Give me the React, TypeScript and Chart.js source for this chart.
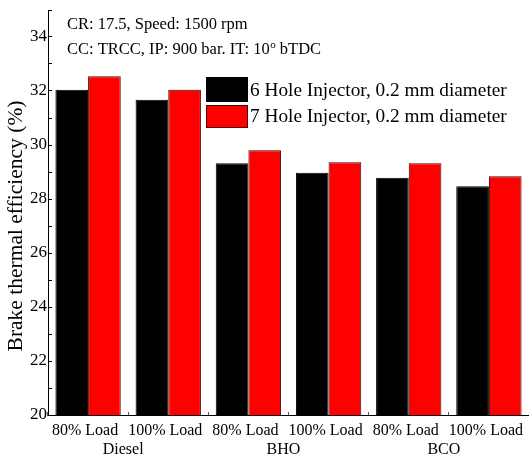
import React, { useEffect, useRef } from "react";
import { Chart, registerables } from "chart.js";

Chart.register(...registerables);

const loads = ["80% Load", "100% Load", "80% Load", "100% Load", "80% Load", "100% Load"];
const fuels = ["Diesel", "BHO", "BCO"];
const sixHole = [32.05, 31.68, 29.32, 28.97, 28.79, 28.47];
const sevenHole = [32.55, 32.05, 29.81, 29.36, 29.32, 28.84];
const seriesNames = ["6 Hole Injector, 0.2 mm diameter", "7 Hole Injector, 0.2 mm diameter"];
const yTitle = "Brake thermal efficiency (%)";
const noteLine1 = "CR: 17.5, Speed: 1500 rpm";
const noteLine2 = ["CC: TRCC, IP: 900 bar. IT: 10", "o", " bTDC"];

const FONT = "'Liberation Serif', 'Times New Roman', serif";

const decorPlugin = {
  id: "decor",
  afterDraw(chart: any) {
    const ctx = chart.ctx;
    ctx.save();
    ctx.fillStyle = "#000";
    // y axis title
    ctx.save();
    ctx.translate(16, 226);
    ctx.rotate(-Math.PI / 2);
    ctx.font = `21.5px ${FONT}`;
    ctx.textAlign = "center";
    ctx.textBaseline = "middle";
    ctx.fillText(yTitle, 0, 0);
    ctx.restore();

    // notes
    ctx.font = `16.5px ${FONT}`;
    ctx.textAlign = "left";
    ctx.textBaseline = "middle";
    ctx.fillText(noteLine1, 67, 25);
    let x = 67;
    ctx.fillText(noteLine2[0], x, 50);
    x += ctx.measureText(noteLine2[0]).width;
    ctx.font = `11px ${FONT}`;
    ctx.fillText(noteLine2[1], x + 0.5, 45);
    x += ctx.measureText(noteLine2[1]).width + 0.5;
    ctx.font = `16.5px ${FONT}`;
    ctx.fillText(noteLine2[2], x, 50);

    // legend
    const ds = chart.data.datasets;
    const boxes = [
      { y: 77, h: 25, ty: 91 },
      { y: 105, h: 23, ty: 117 },
    ];
    ctx.font = `19.3px ${FONT}`;
    ds.forEach((d: any, i: number) => {
      const b = boxes[i];
      ctx.fillStyle = d.backgroundColor;
      ctx.fillRect(206, b.y, 42, b.h);
      ctx.strokeStyle = d.borderColor;
      ctx.lineWidth = 1;
      ctx.strokeRect(206.5, b.y + 0.5, 41, b.h - 1);
      ctx.fillStyle = "#000";
      ctx.fillText(d.label, 250, b.ty);
    });
    ctx.restore();
  },
};

export default function App() {
  const ref = useRef<HTMLCanvasElement | null>(null);
  useEffect(() => {
    if (!ref.current) return;
    const chart = new Chart(ref.current, {
      type: "bar",
      data: {
        labels: loads,
        datasets: [
          {
            label: seriesNames[0],
            data: sixHole,
            backgroundColor: "#000000",
            borderColor: "#000000",
            borderWidth: 1,
            barPercentage: 1,
            categoryPercentage: 0.815,
          },
          {
            label: seriesNames[1],
            data: sevenHole,
            backgroundColor: "#ff0000",
            borderColor: "#4a0000",
            borderWidth: 1,
            barPercentage: 1,
            categoryPercentage: 0.815,
          },
        ],
      },
      options: {
        animation: false,
        responsive: true,
        maintainAspectRatio: false,
        layout: { padding: { top: 10, right: 0, left: 0, bottom: 0 } },
        plugins: {
          legend: { display: false },
          tooltip: { enabled: false },
        },
        scales: {
          y: {
            min: 20,
            max: 35,
            afterFit: (s: any) => {
              s.width = 48;
              s.paddingTop = 0;
              s.paddingBottom = 0;
            },
            ticks: {
              stepSize: 1,
              autoSkip: false,
              padding: 5,
              color: "#000",
              font: { family: FONT, size: 17 },
              callback: (v: any) => (Number(v) % 2 === 0 && Number(v) < 35 ? String(v) : ""),
            },
            grid: {
              drawOnChartArea: false,
              drawTicks: true,
              tickLength: -4,
              color: "#000",
            },
            border: { display: true, color: "#000", width: 1 },
          },
          x: {
            type: "category",
            position: "bottom",
            afterFit: (s: any) => {
              s.height = 20;
              s.paddingLeft = 0;
              s.paddingRight = 0;
            },
            ticks: {
              padding: 9,
              labelOffset: -3,
              color: "#000",
              autoSkip: false,
              maxRotation: 0,
              font: { family: FONT, size: 16 },
            },
            grid: {
              drawOnChartArea: false,
              drawTicks: true,
              tickLength: -3,
              color: "#555",
              offset: true,
            },
            border: { display: true, color: "#000", width: 1 },
          },
          x2: {
            type: "category",
            position: "bottom",
            labels: fuels,
            afterFit: (s: any) => {
              s.height = 26;
              s.paddingLeft = 0;
              s.paddingRight = 0;
            },
            ticks: {
              padding: 5,
              labelOffset: -5,
              color: "#000",
              autoSkip: false,
              maxRotation: 0,
              font: { family: FONT, size: 16 },
            },
            grid: { display: false, drawTicks: false },
            border: { display: false },
          },
        },
      } as any,
      plugins: [decorPlugin],
    });
    return () => chart.destroy();
  }, []);
  return (
    <div style={{ position: "fixed", left: 0, top: 0, width: 529, height: 461, background: "#fff" }}>
      <canvas ref={ref} />
    </div>
  );
}
